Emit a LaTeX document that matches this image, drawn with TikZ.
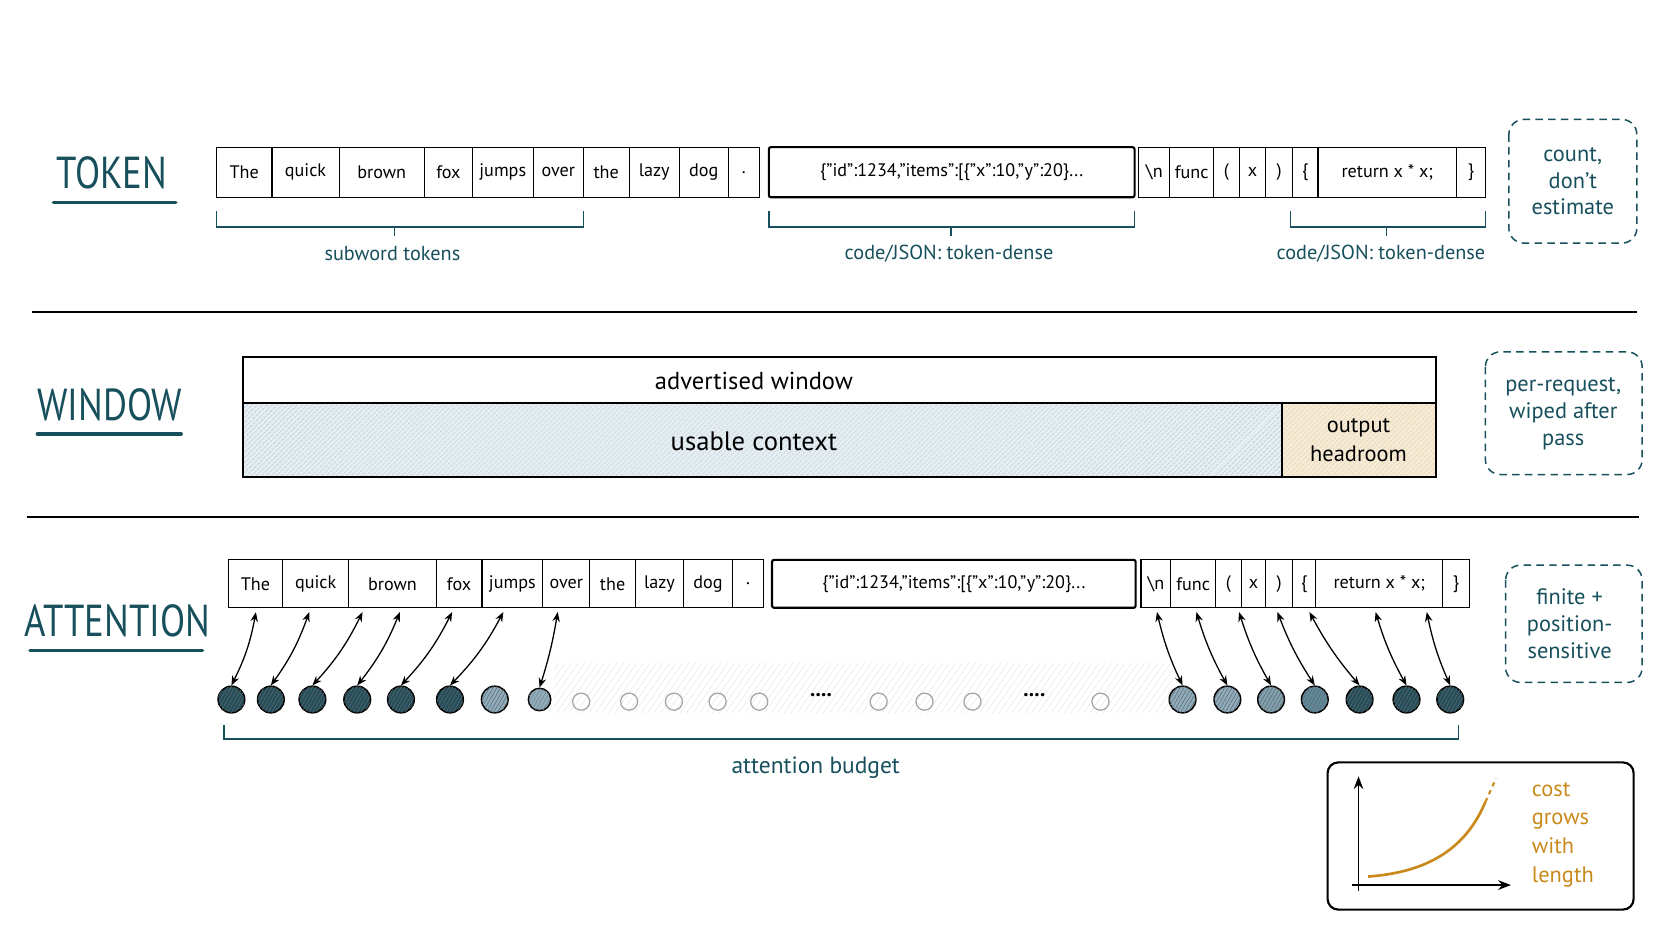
\documentclass[tikz,border=0pt]{standalone}
\usepackage{fontspec}
\setmainfont{PT Sans}
\usetikzlibrary{patterns,patterns.meta,arrows.meta,decorations.pathreplacing}
\definecolor{teal}{HTML}{17505C}
\definecolor{ora}{HTML}{C98A1B}
\definecolor{hatchb}{HTML}{9FBCCC}
\definecolor{dk}{HTML}{234E5C}
\definecolor{md}{HTML}{5F8A9E}
\definecolor{lt}{HTML}{8EAEC0}
\newcommand{\qq}{\char"22\relax}
\newcommand{\jsontxt}{\{\qq id\qq:1234,\qq items\qq:[\{\qq x\qq:10,\qq y\qq:20\}...}
\tikzset{
 cell/.style={draw,line width=1.1pt,minimum height=47pt,inner sep=0pt,font=\fontsize{17}{17}\selectfont},
 big/.style={font=\fontsize{42}{42}\selectfont,text=teal,xscale=0.82},
 lab/.style={font=\fontsize{19}{19}\selectfont,text=teal},
 note/.style={draw=teal,dashed,line width=1.4pt,rounded corners=14pt,dash pattern=on 7pt off 5pt},
 notetxt/.style={font=\fontsize{21}{25}\selectfont,text=teal,align=center},
 brc/.style={draw=teal,line width=1.3pt},
 arr/.style={{Stealth[length=9pt,width=7pt]}-{Stealth[length=9pt,width=7pt]},line width=1.2pt},
 dot/.style={circle,draw,line width=1.4pt,minimum size=25pt,inner sep=0pt},
 emp/.style={circle,draw=gray!70,line width=1.2pt,minimum size=16pt,inner sep=0pt},
}
\begin{document}
\begin{tikzpicture}[x=1pt,y=-1pt]
\useasboundingbox[fill=white] (0,0) rectangle (1568,882);
% TOKEN
\node[big] (tok) at (105,162) {TOKEN};
\draw[teal,line width=3pt,line cap=round] (50,190) -- (165,190);
\foreach \a/\b/\t [count=\i] in {203/255/The,255/318/quick,318/398/brown,398/443/fox,443/500/jumps,500/547/over,547/590/the,590/637/lazy,637/683/dog,683/712/.}
  \node[cell,minimum width=\b-\a] (t\i) at ({(\a+\b)/2},161.5) {\t};
\node[cell,line width=2pt,rounded corners=2pt,minimum width=343] (tj) at (892.5,161.5) {\jsontxt};
\foreach \a/\b/\t [count=\i] in {1068/1097/\textbackslash n,1097/1138/func,1138/1162/(,1162/1187/x,1187/1212/),1212/1236/\{,1236/1366/return x * x;,1366/1393/\}}
  \node[cell,minimum width=\b-\a] (k\i) at ({(\a+\b)/2},161.5) {\t};
\draw[brc] (203,198) -- (203,213) -- (547,213) -- (547,198) (370,213) -- (370,221);
\node[lab] (l1) at (368,238) {subword tokens};
\draw[brc] (721,198) -- (721,213) -- (1064,213) -- (1064,198) (892,213) -- (892,221);
\node[lab] (l2) at (890,238) {code/JSON: token-dense};
\draw[brc] (1210,198) -- (1210,213) -- (1393,213) -- (1393,198) (1300,213) -- (1300,221);
\node[lab] (l3) at (1295,238) {code/JSON: token-dense};
\draw[note] (1415,112) rectangle (1535,228);
\node[notetxt] (n1) at (1475,170) {count,\\don't\\estimate};
\draw[line width=2pt] (30,293) -- (1535,293);
% WINDOW
\node[big] (win) at (103,380) {WINDOW};
\draw[teal,line width=3pt,line cap=round] (35,407) -- (170,407);
\fill[hatchb!25] (228,378) rectangle (1202,447);
\fill[pattern={Lines[angle=45,distance=4pt,line width=0.5pt]},pattern color=hatchb] (228,378) rectangle (1202,447);
\fill[ora!18] (1202,378) rectangle (1347,447);
\fill[pattern={Lines[angle=45,distance=4pt,line width=0.4pt]},pattern color=ora!45] (1202,378) rectangle (1347,447);
\draw[line width=2pt] (228,335) rectangle (1347,447);
\draw[line width=2pt] (228,378) -- (1347,378);
\draw[line width=2pt] (1202,378) -- (1202,447);
\node[font=\fontsize{23}{23}\selectfont] (aw) at (707,357) {advertised window};
\node[font=\fontsize{25}{25}\selectfont] (uc) at (707,414) {usable context};
\node[font=\fontsize{21}{27}\selectfont,align=center] (oh) at (1274,413) {output\\headroom};
\draw[note] (1393,330) rectangle (1540,445);
\node[notetxt] (n2) at (1466,388) {per-request,\\wiped after\\pass};
\draw[line width=2pt] (25,485) -- (1537,485);
% ATTENTION
\node[big] (att) at (110,582) {ATTENTION};
\draw[teal,line width=3pt,line cap=round] (28,610) -- (190,610);
\fill[pattern={Lines[angle=55,distance=5pt,line width=0.5pt]},pattern color=gray!18] (520,622) rectangle (1100,668);
\foreach \a/\b/\t [count=\i] in {214/265/The,265/327/quick,327/409/brown,409/452/fox,452/509/jumps,509/553/over,553/596/the,596/641/lazy,641/687/dog,687/716/.}
  \node[cell,minimum width=\b-\a,minimum height=45pt] (a\i) at ({(\a+\b)/2},547.5) {\t};
\node[cell,line width=2pt,rounded corners=2pt,minimum width=341,minimum height=45pt] (aj) at (894.5,547.5) {\jsontxt};
\foreach \a/\b/\t [count=\i] in {1070/1098/\textbackslash n,1098/1140/func,1140/1164/(,1164/1187/x,1187/1212/),1212/1234/\{,1234/1353/return x * x;,1353/1378/\}}
  \node[cell,minimum width=\b-\a,minimum height=45pt] (b\i) at ({(\a+\b)/2},547.5) {\t};
% dots
\foreach \x/\c [count=\i] in {217/dk,254/dk,293/dk,335/dk,376/dk,422/dk,464/lt}
  \node[dot,fill=\c,postaction={pattern={Lines[angle=60,distance=3pt,line width=0.5pt]},pattern color=black!60}] (c\i) at (\x,656) {};
\node[dot,minimum size=21pt,fill=lt,postaction={pattern={Lines[angle=60,distance=3pt,line width=0.5pt]},pattern color=black!50}] (c8) at (506,656) {};
\foreach \x [count=\i] in {545,590,632,673,712,824,867,912,1032}
  \node[emp] (e\i) at (\x,658) {};
\node[font=\fontsize{20}{20}\selectfont\bfseries] (d1) at (770,652) {....};
\node[font=\fontsize{20}{20}\selectfont\bfseries] (d2) at (970,652) {....};
\foreach \x/\c [count=\i] in {1109/lt,1151/lt,1192/md!80,1233/md,1275/dk,1319/dk,1360/dk}
  \node[dot,fill=\c,postaction={pattern={Lines[angle=60,distance=3pt,line width=0.5pt]},pattern color=black!60}] (r\i) at (\x,656) {};
\foreach \x [count=\i] in {240,290,340,375,424,472,523}
  \coordinate (ta\i) at (\x,574);
\foreach \x [count=\i] in {1085,1122,1162,1198,1228,1290,1338}
  \coordinate (tb\i) at (\x,574);
\foreach \i in {1,...,6} \draw[arr] (ta\i) to[bend left=8] (c\i.north);
\draw[arr] (ta7) to[bend left=4] (c8.north);
\foreach \i in {1,...,7} \draw[arr] (tb\i) to[bend right=6] (r\i.north);
\draw[brc] (210,680) -- (210,693) -- (1368,693) -- (1368,680);
\node[lab,font=\fontsize{22}{22}\selectfont] (ab) at (765,720) {attention budget};
\draw[note] (1412,530) rectangle (1540,640);
\node[notetxt] (n3) at (1472,585) {finite +\\position-\\sensitive};
% graph
\draw[line width=2pt,rounded corners=10pt] (1245,715) rectangle (1532,853);
\coordinate (o) at (1274,830);
\draw[-{Stealth[length=12pt,width=9pt]},line width=1.6pt] (1274,836) -- (1274,728);
\draw[-{Stealth[length=12pt,width=9pt]},line width=1.6pt] (1268,830) -- (1417,830);
\draw[ora,line width=2.5pt] (1283,822) .. controls (1340,818) and (1375,795) .. (1393,752);
\draw[ora,line width=2pt,dash pattern=on 4pt off 4pt] (1393,752) -- (1403,730);
\node[font=\fontsize{21}{27}\selectfont,text=ora,align=left,anchor=north west] (cg) at (1433,730) {cost\\grows\\with\\length};
\end{tikzpicture}
\end{document}
